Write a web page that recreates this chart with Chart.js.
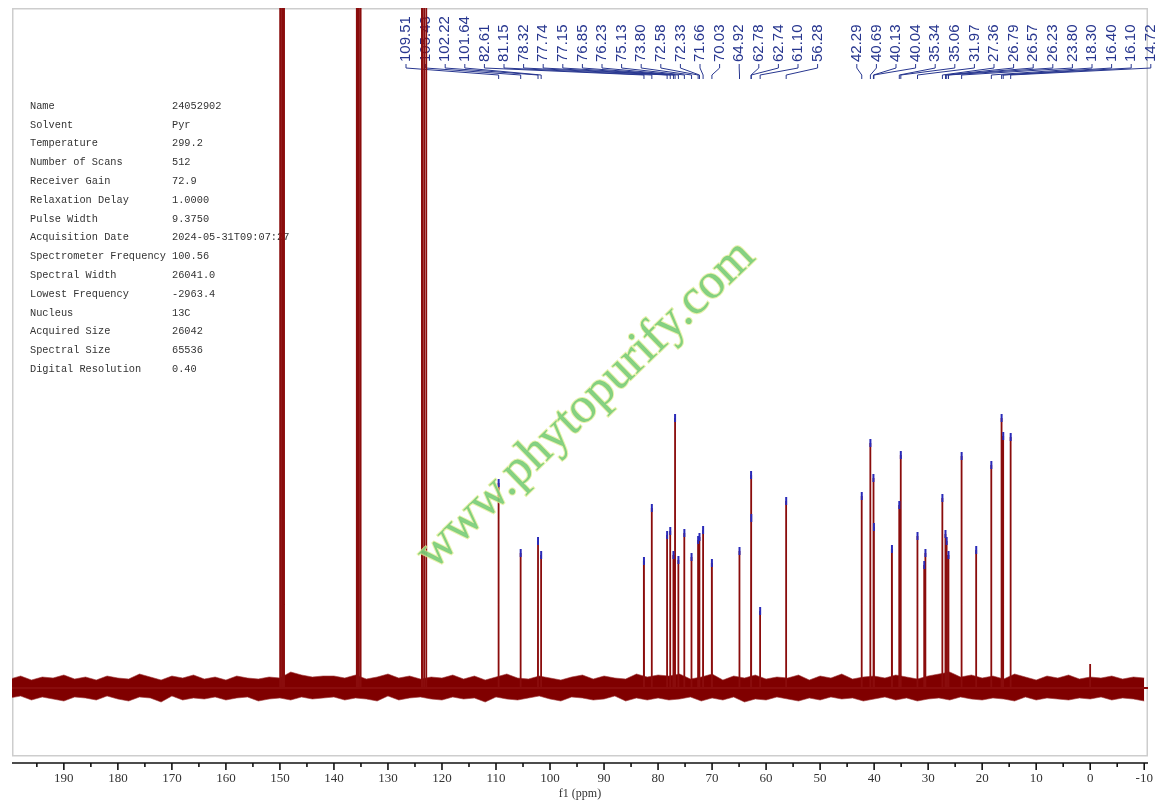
<!DOCTYPE html>
<html>
<head>
<meta charset="utf-8">
<title>13C NMR</title>
<script src="https://cdn.jsdelivr.net/npm/chart.js@4.4.1/dist/chart.umd.min.js"></script>
<style>
    html, body { margin: 0; padding: 0; background: #fff; overflow: hidden; }
    #nmr { display: block; }
</style>
</head>
<body>
<canvas id="nmr" width="1172" height="804"></canvas>
<script>
// acquisition parameters (top-left table)
const paramNames = ['Name', 'Solvent', 'Temperature', 'Number of Scans', 'Receiver Gain',
    'Relaxation Delay', 'Pulse Width', 'Acquisition Date', 'Spectrometer Frequency',
    'Spectral Width', 'Lowest Frequency', 'Nucleus', 'Acquired Size', 'Spectral Size',
    'Digital Resolution'];
const paramValues = ['24052902', 'Pyr', '299.2', '512', '72.9', '1.0000', '9.3750',
    '2024-05-31T09:07:27', '100.56', '26041.0', '-2963.4', '13C', '26042', '65536', '0.40'];

// axis ticks (ppm)
const majorTicks = [190, 180, 170, 160, 150, 140, 130, 120, 110, 100, 90, 80, 70, 60, 50, 40, 30, 20, 10, 0, -10];
const minorTicks = [195, 185, 175, 165, 155, 145, 135, 125, 115, 105, 95, 85, 75, 65, 55, 45, 35, 25, 15, 5, -5];

// picked sample peaks (ppm / intensity, baseline = 0)
const peakPpm = [109.51, 105.43, 102.22, 101.64, 82.61, 81.15, 78.32, 77.74, 77.15, 76.85,
    76.23, 75.13, 73.80, 72.58, 72.33, 71.66, 70.03, 64.92, 62.78, 62.74,
    61.10, 56.28, 42.29, 40.69, 40.13, 40.04, 36.70, 35.34, 35.06, 31.97,
    30.72, 30.50, 27.36, 26.79, 26.57, 26.23, 23.80, 21.10, 18.30, 16.40,
    16.10, 14.72];
const peakHeight = [205, 135, 147, 133, 127, 180, 153, 157, 133, 270,
    128, 155, 131, 148, 151, 158, 125, 137, 213, 170,
    77, 187, 192, 245, 210, 161, 139, 183, 233, 152,
    123, 135, 190, 154, 147, 133, 232, 138, 223, 270,
    252, 251];

// solvent (pyridine-d5 triplets) and TMS, no pick marker
const otherPpm = [149.95, 149.60, 149.25, 135.75, 135.40, 135.05, 123.70, 123.30, 122.90, 0.00];
const otherHeight = [3000, 3000, 3000, 3000, 3000, 3000, 3000, 3000, 3000, 24];

// peak labels along the top
const labelPpm = [109.51, 105.43, 102.22, 101.64, 82.61, 81.15, 78.32, 77.74, 77.15, 76.85,
    76.23, 75.13, 73.80, 72.58, 72.33, 71.66, 70.03, 64.92, 62.78, 62.74,
    61.10, 56.28, 42.29, 40.69, 40.13, 40.04, 35.34, 35.06, 31.97, 27.36,
    26.79, 26.57, 26.23, 23.80, 18.30, 16.40, 16.10, 14.72];
const labelSlot = [0, 1, 2, 3, 4, 5, 6, 7, 8, 9, 10, 11, 12, 13, 14, 15, 16, 17, 18, 19, 20, 21,
    23, 24, 25, 26, 27, 28, 29, 30, 31, 32, 33, 34, 35, 36, 37, 38];

// baseline noise envelope, read every 2 ppm
const noisePpm = [200, 198, 196, 194, 192, 190, 188, 186, 184, 182,
    180, 178, 176, 174, 172, 170, 168, 166, 164, 162,
    160, 158, 156, 154, 152, 150, 148, 146, 144, 142,
    140, 138, 136, 134, 132, 130, 128, 126, 124, 122,
    120, 118, 116, 114, 112, 110, 108, 106, 104, 102,
    100, 98, 96, 94, 92, 90, 88, 86, 84, 82,
    80, 78, 76, 74, 72, 70, 68, 66, 64, 62,
    60, 58, 56, 54, 52, 50, 48, 46, 44, 42,
    40, 38, 36, 34, 32, 30, 28, 26, 24, 22,
    20, 18, 16, 14, 12, 10, 8, 6, 4, 2,
    0, -2, -4, -6, -8, -10];
const noiseHigh = [9, 12, 8, 11, 10, 13, 9, 11, 8, 12,
    10, 9, 14, 11, 8, 12, 10, 13, 9, 11,
    8, 12, 10, 9, 11, 10, 16, 13, 11, 12,
    12, 10, 13, 9, 11, 14, 10, 12, 9, 11,
    10, 13, 9, 12, 8, 11, 14, 10, 9, 12,
    10, 8, 11, 13, 9, 12, 10, 9, 14, 11,
    13, 12, 14, 9, 11, 14, 8, 12, 10, 13,
    9, 11, 10, 13, 8, 12, 10, 14, 9, 11,
    12, 10, 13, 11, 9, 12, 14, 16, 11, 13,
    10, 12, 9, 14, 11, 8, 12, 10, 13, 9,
    11, 10, 12, 9, 11, 10];
const noiseLow = [-10, -8, -12, -9, -11, -13, -9, -10, -12, -8,
    -11, -13, -9, -10, -14, -8, -12, -10, -11, -9,
    -12, -10, -9, -13, -11, -10, -12, -9, -11, -10,
    -9, -12, -10, -11, -13, -8, -12, -10, -9, -11,
    -12, -9, -11, -10, -14, -9, -11, -12, -10, -8,
    -11, -13, -9, -10, -12, -11, -8, -13, -10, -12,
    -10, -12, -11, -9, -13, -10, -12, -9, -14, -11,
    -12, -9, -11, -13, -10, -12, -9, -11, -10, -13,
    -11, -9, -12, -10, -13, -11, -10, -12, -9, -11,
    -12, -10, -11, -13, -9, -12, -10, -11, -12, -10,
    -11, -9, -12, -10, -11, -13];

// build the stick spectrum from the peak lists
const allPeaks = peakPpm.map((p, i) => ({ p, h: peakHeight[i] }))
    .concat(otherPpm.map((p, i) => ({ p, h: otherHeight[i] })))
    .sort((a, b) => a.p - b.p);
const spectrum = [{ x: -11, y: 0 }];
allPeaks.forEach(pk => {
    spectrum.push({ x: pk.p - 0.02, y: 0 }, { x: pk.p, y: pk.h }, { x: pk.p + 0.02, y: 0 });
});
spectrum.push({ x: 200, y: 0 });

const picks = peakPpm.map((p, i) => ({ x: p, y: peakHeight[i] }));

// filler wants ascending x
const noiseTop = noisePpm.map((x, i) => ({ x, y: noiseHigh[i] })).reverse();
const noiseBottom = noisePpm.map((x, i) => ({ x, y: noiseLow[i] })).reverse();

const decor = {
    id: 'decor',
    beforeDatasetsDraw(chart) {
        const { ctx, chartArea: a } = chart;
        const xs = chart.scales.x;
        ctx.save();
        // gray frame
        ctx.strokeStyle = '#cdcdcd';
        ctx.lineWidth = 1.5;
        ctx.strokeRect(a.left + 0.75, a.top + 0.75, a.right - a.left - 1.5, a.bottom - 8 - a.top);

        // parameter table
        ctx.font = '10.3px "Liberation Mono", monospace';
        ctx.fillStyle = '#333';
        ctx.textBaseline = 'middle';
        ctx.textAlign = 'left';
        paramNames.forEach((n, i) => {
            const y = 106 + i * 18.8;
            ctx.fillText(n, 30, y);
            ctx.fillText(paramValues[i], 172, y);
        });

        // peak labels + connectors
        ctx.font = '15px "Liberation Sans", Arial, sans-serif';
        ctx.fillStyle = '#27368f';
        ctx.strokeStyle = '#27368f';
        ctx.lineWidth = 1;
        labelPpm.forEach((p, i) => {
            const lx = a.left + 394 + labelSlot[i] * 19.6;
            const px = xs.getPixelForValue(p);
            ctx.save();
            ctx.translate(lx, 62);
            ctx.rotate(-Math.PI / 2);
            ctx.fillText(p.toFixed(2), 0, 0);
            ctx.restore();
            ctx.beginPath();
            ctx.moveTo(lx, 64);
            ctx.lineTo(lx, 68);
            ctx.lineTo(px, 75);
            ctx.lineTo(px, 79);
            ctx.stroke();
        });
        ctx.restore();
    },
    afterDatasetsDraw(chart) {
        // watermark
        const { ctx } = chart;
        ctx.save();
        ctx.translate(586, 405);
        ctx.rotate(-44 * Math.PI / 180);
        ctx.font = '50px "Liberation Serif", serif';
        ctx.textAlign = 'center';
        ctx.textBaseline = 'middle';
        ctx.lineWidth = 2;
        ctx.strokeStyle = 'rgba(226, 238, 150, 0.8)';
        ctx.strokeText('www.phytopurify.com', 0, 0);
        ctx.fillStyle = 'rgba(120, 204, 120, 0.9)';
        ctx.fillText('www.phytopurify.com', 0, 0);
        ctx.restore();
    },
    afterDraw(chart) {
        // bottom axis line with major / minor ticks
        const { ctx, chartArea: a } = chart;
        const xs = chart.scales.x;
        ctx.save();
        ctx.strokeStyle = '#111';
        ctx.lineWidth = 1.6;
        ctx.beginPath();
        ctx.moveTo(a.left, a.bottom);
        ctx.lineTo(a.right, a.bottom);
        ctx.stroke();
        xs.ticks.forEach(t => {
            const px = xs.getPixelForValue(t.value);
            const len = majorTicks.includes(t.value) ? 7 : 4;
            ctx.beginPath();
            ctx.moveTo(px, a.bottom);
            ctx.lineTo(px, a.bottom + len);
            ctx.stroke();
        });
        ctx.restore();
    }
};

new Chart(document.getElementById('nmr'), {
    type: 'line',
    data: {
        datasets: [{
            type: 'scatter',
            label: 'picks',
            data: picks,
            pointStyle: 'line',
            rotation: 90,
            radius: 4,
            borderWidth: 2,
            borderColor: '#2a2ab8',
            pointBorderColor: '#2a2ab8',
            showLine: false
        }, {
            label: 'spectrum',
            data: spectrum,
            borderColor: '#8a0c0c',
            borderWidth: 1.8,
            pointRadius: 0,
            tension: 0,
            fill: false
        }, {
            label: 'noiseHigh',
            data: noiseTop,
            borderColor: 'rgba(160, 60, 60, 0.6)',
            borderWidth: 1,
            pointRadius: 0,
            backgroundColor: '#800000',
            fill: 'origin'
        }, {
            label: 'noiseLow',
            data: noiseBottom,
            borderColor: 'rgba(160, 60, 60, 0.6)',
            borderWidth: 1,
            pointRadius: 0,
            backgroundColor: '#800000',
            fill: 'origin'
        }]
    },
    options: {
        responsive: false,
        animation: false,
        layout: { padding: { left: 12, right: 24, top: 8, bottom: 1 } },
        plugins: {
            legend: { display: false },
            tooltip: { enabled: false }
        },
        scales: {
            x: {
                type: 'linear',
                reverse: true,
                min: -10.7,
                max: 199.6,
                afterBuildTicks: axis => {
                    axis.ticks = majorTicks.concat(minorTicks).sort((a, b) => a - b).map(v => ({ value: v }));
                },
                grid: { display: false, drawTicks: false, tickLength: 0 },
                border: { display: false },
                ticks: {
                    autoSkip: false,
                    maxRotation: 0,
                    padding: 8,
                    color: '#333',
                    font: { family: '"Liberation Serif", serif', size: 13 },
                    callback: v => majorTicks.includes(v) ? String(v) : ''
                },
                title: {
                    display: true,
                    text: 'f1 (ppm)',
                    color: '#333',
                    font: { family: '"Liberation Serif", serif', size: 12 },
                    padding: { top: -8, bottom: 2 }
                }
            },
            y: {
                display: false,
                min: -75,
                max: 680
            }
        }
    },
    plugins: [decor]
});
</script>
</body>
</html>
